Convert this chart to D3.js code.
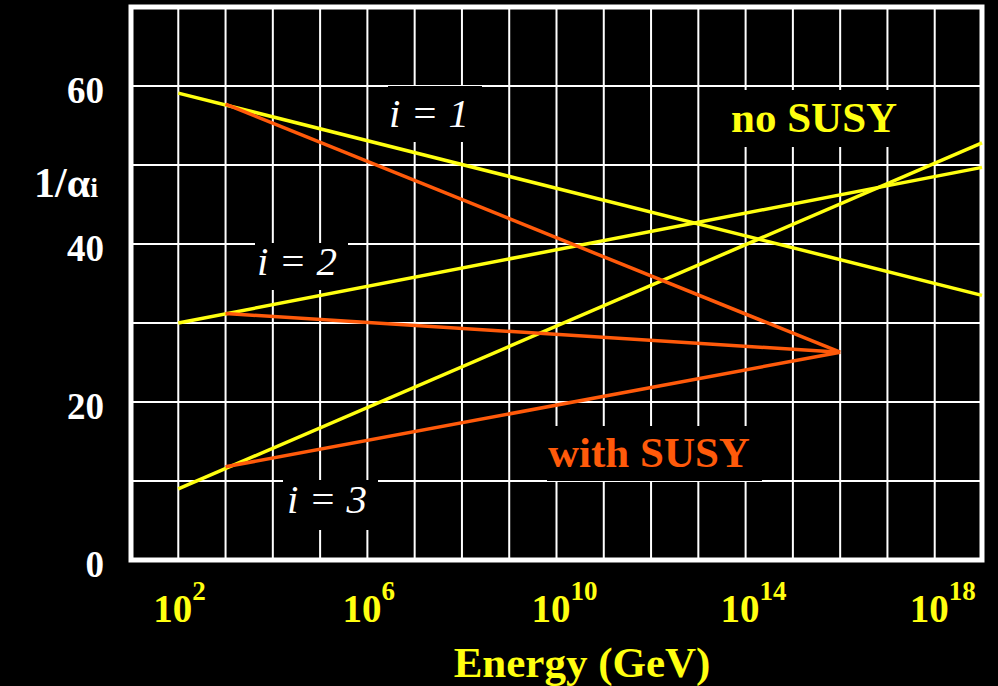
<!DOCTYPE html>
<html>
<head>
<meta charset="utf-8">
<script src="https://cdn.jsdelivr.net/npm/d3@7"></script>
<style>
  html, body { margin: 0; padding: 0; background: #000; }
  svg { display: block; }
  text { font-family: "Liberation Serif", "Times New Roman", serif; }
</style>
</head>
<body>
<div id="chart"></div>
<script>
var svgWidth = 998;
var svgHeight = 686;

// exponents of energy (GeV) and 1/alpha values
var noSusyX = [2, 19];
var noSusy1 = [59.1, 33.5];
var noSusy2 = [30.0, 49.7];
var noSusy3 = [9.0, 52.8];

var susyX = [3, 16];
var susy1 = [57.7, 26.3];
var susy2 = [31.2, 26.3];
var susy3 = [11.8, 26.3];

var gridExp = d3.range(2, 19);
var labelExp = [2, 6, 10, 14, 18];
var yTicks = [0, 20, 40, 60];
var yGrid = [10, 20, 30, 40, 50, 60];

var yellow = "#ffff10";
var orange = "#ff5a0a";

var svg = d3
  .select("#chart")
  .append("svg")
  .attr("width", svgWidth)
  .attr("height", svgHeight);

var xScale = d3.scaleLog().domain([1e1, 1e19]).range([131, 982]);
var yScale = d3.scaleLinear().domain([0, 70]).range([560, 7]);

// grid
svg
  .append("g")
  .selectAll("line")
  .data(gridExp)
  .enter()
  .append("line")
  .attr("x1", (d) => xScale(Math.pow(10, d)))
  .attr("x2", (d) => xScale(Math.pow(10, d)))
  .attr("y1", yScale(70))
  .attr("y2", yScale(0))
  .attr("stroke", "#fff")
  .attr("stroke-width", 2);

svg
  .append("g")
  .selectAll("line")
  .data(yGrid)
  .enter()
  .append("line")
  .attr("x1", xScale(1e1))
  .attr("x2", xScale(1e19))
  .attr("y1", (d) => yScale(d))
  .attr("y2", (d) => yScale(d))
  .attr("stroke", "#fff")
  .attr("stroke-width", 2);

svg
  .append("rect")
  .attr("x", xScale(1e1))
  .attr("y", yScale(70))
  .attr("width", xScale(1e19) - xScale(1e1))
  .attr("height", yScale(0) - yScale(70))
  .attr("fill", "none")
  .attr("stroke", "#fff")
  .attr("stroke-width", 5);

// black boxes behind the labels
var boxes = [
  [388, 86, 94, 56],
  [255, 243, 93, 47],
  [283, 480, 95, 50],
  [705, 90, 220, 57],
  [547, 426, 215, 55]
];
svg
  .append("g")
  .selectAll("rect")
  .data(boxes)
  .enter()
  .append("rect")
  .attr("x", (d) => d[0])
  .attr("y", (d) => d[1])
  .attr("width", (d) => d[2])
  .attr("height", (d) => d[3])
  .attr("fill", "#000");

// lines
var line = d3
  .line()
  .x((d) => xScale(Math.pow(10, d[0])))
  .y((d) => yScale(d[1]));

[noSusy1, noSusy2, noSusy3].forEach(function (vals) {
  svg
    .append("path")
    .attr("d", line(d3.zip(noSusyX, vals)))
    .attr("fill", "none")
    .attr("stroke", yellow)
    .attr("stroke-width", 3.5);
});

[susy1, susy2, susy3].forEach(function (vals) {
  svg
    .append("path")
    .attr("d", line(d3.zip(susyX, vals)))
    .attr("fill", "none")
    .attr("stroke", orange)
    .attr("stroke-width", 3.5);
});

// y tick labels
svg
  .append("g")
  .selectAll("text")
  .data(yTicks)
  .enter()
  .append("text")
  .text((d) => d)
  .attr("x", 104)
  .attr("y", (d) => yScale(d) + 17)
  .style("text-anchor", "end")
  .style("font-size", "37px")
  .style("font-weight", "bold")
  .attr("fill", "#fff");

var yLab = svg
  .append("text")
  .attr("x", 98)
  .attr("y", 197)
  .style("text-anchor", "end")
  .style("font-size", "42px")
  .style("font-weight", "bold")
  .attr("fill", "#fff");
yLab.append("tspan").text("1/\u03b1");
yLab.append("tspan").text("i").style("font-size", "28px");

// x tick labels
var xLabs = svg
  .append("g")
  .selectAll("text")
  .data(labelExp)
  .enter()
  .append("text")
  .attr("x", (d) => xScale(Math.pow(10, d)) - 25)
  .attr("y", 622)
  .style("font-size", "39px")
  .style("font-weight", "bold")
  .attr("fill", yellow);
xLabs.append("tspan").text("10");
xLabs
  .append("tspan")
  .text((d) => d)
  .attr("dy", -22)
  .style("font-size", "27px");

svg
  .append("text")
  .text("Energy (GeV)")
  .attr("x", 582)
  .attr("y", 677)
  .style("text-anchor", "middle")
  .style("font-size", "43px")
  .style("font-weight", "bold")
  .attr("fill", yellow);

// annotations
var notes = [
  { t: "i = 1", x: 389, y: 127, c: "#fff", it: true },
  { t: "i = 2", x: 257, y: 275, c: "#fff", it: true },
  { t: "i = 3", x: 287, y: 513, c: "#fff", it: true },
  { t: "no SUSY", x: 731, y: 132, c: yellow, it: false },
  { t: "with SUSY", x: 548, y: 467, c: orange, it: false }
];
svg
  .append("g")
  .selectAll("text")
  .data(notes)
  .enter()
  .append("text")
  .text((d) => d.t)
  .attr("x", (d) => d.x)
  .attr("y", (d) => d.y)
  .style("font-size", (d) => (d.it ? "41px" : "43px"))
  .style("font-style", (d) => (d.it ? "italic" : "normal"))
  .style("font-weight", (d) => (d.it ? "normal" : "bold"))
  .style("white-space", "pre")
  .attr("fill", (d) => d.c);
</script>
</body>
</html>
